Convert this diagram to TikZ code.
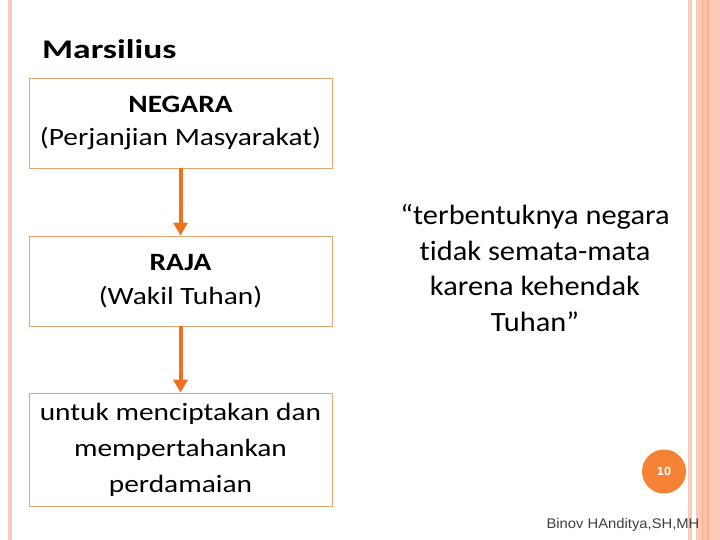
\documentclass[tikz,border=0pt]{standalone}
\usepackage{fontspec}
\setmainfont{Carlito}[FakeStretch=1.18,Ligatures={NoCommon}]
\newfontfamily\titlefont{Carlito}[FakeStretch=1.32,Ligatures={NoCommon}]
\newfontfamily\quotefont{Carlito}[FakeStretch=1.09,Ligatures={NoCommon}]
\newfontfamily\footfont{Liberation Sans}[FakeStretch=1.06]
\usetikzlibrary{arrows.meta}
\definecolor{stripeA}{HTML}{F8CBBB}
\definecolor{stripeB}{HTML}{FBCBB8}
\definecolor{stripeC}{HTML}{F4AE90}
\definecolor{stripeD}{HTML}{FCC4A6}
\definecolor{boxline}{HTML}{E3A572}
\definecolor{arrowc}{HTML}{F07020}
\definecolor{circc}{HTML}{F58235}
\definecolor{footc}{HTML}{404040}
\tikzset{
  boxnode/.style={draw=boxline, line width=0.8bp, minimum width=303bp, align=center, inner sep=0pt},
  arrowline/.style={draw=arrowc, line width=4bp, -{Triangle[width=14bp,length=13bp]}},
  bodytext/.style={font=\fontsize{25}{34}\selectfont},
}
\begin{document}
\begin{tikzpicture}[x=1bp,y=-1bp]
\useasboundingbox (0,0) rectangle (720,540);
\fill[white] (0,0) rectangle (720,540);
% decorative stripes
\fill[stripeA] (8,0) rectangle (12,540);
\fill[stripeA] (688,0) rectangle (692,540);
\fill[stripeB] (696,0) rectangle (720,540);
\fill[stripeC] (701.5,0) rectangle (703,540);
\fill[stripeD] (703,0) rectangle (707,540);
\fill[stripeC] (707,0) rectangle (709,540);
% title
\node[anchor=base west, inner sep=0pt, font=\titlefont\fontsize{27}{30}\selectfont\bfseries] (title) at (42,59) {Marsilius};
% boxes
\node[boxnode, minimum height=90bp, bodytext] (b1) at (180.5,123) {\textbf{NEGARA}\\(Perjanjian Masyarakat)};
\node[boxnode, minimum height=90bp, bodytext] (b2) at (180.5,281) {\textbf{RAJA}\\(Wakil Tuhan)};
\node[boxnode, minimum height=113bp, font=\fontsize{25}{36}\selectfont] (b3) at (180.5,449.5) {untuk menciptakan dan\\mempertahankan\\perdamaian};
% arrows
\draw[arrowline] (b1.south) -- (b2.north);
\draw[arrowline] (b2.south) -- (b3.north);
% quote
\node[align=center, inner sep=0pt, font=\quotefont\fontsize{28}{35.5}\selectfont] (quote) at (535,268) {“terbentuknya negara\\tidak semata-mata\\karena kehendak\\Tuhan”};
% page number
\node[circle, fill=circc, minimum size=44bp, inner sep=0pt, text=white, font=\footfont\fontsize{12}{14}\selectfont\bfseries] (page) at (664,471.5) {10};
% footer
\node[anchor=base, inner sep=0pt, text=footc, font=\footfont\fontsize{14}{16}\selectfont] (footer) at (623,528) {Binov HAnditya,SH,MH};
\end{tikzpicture}
\end{document}
